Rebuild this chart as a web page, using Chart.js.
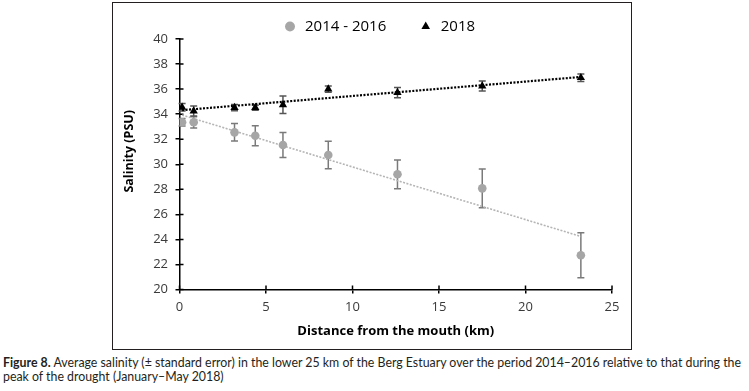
<!DOCTYPE html>
<html><head><meta charset="utf-8">
<script src="https://cdn.jsdelivr.net/npm/chart.js@4/dist/chart.umd.min.js"></script>
<style>
html,body{margin:0;padding:0;background:#fff;}
body{width:749px;height:391px;position:relative;overflow:hidden;}
#frame{position:absolute;left:112px;top:2px;width:518px;height:346px;border:1px solid #231f20;}
#c{position:absolute;left:0;top:0;}
.cap{position:absolute;left:3px;white-space:nowrap;font-family:Lato,'Liberation Sans',sans-serif;font-size:13.5px;line-height:13.4px;color:#231f20;transform-origin:0 0;}
</style></head><body>
<div id="frame"></div>
<canvas id="c" width="749" height="352"></canvas>
<div class="cap" id="cap1" style="top:356.4px"><b>Figure 8.</b> Average salinity (± standard error) in the lower 25 km of the Berg Estuary over the period 2014–2016 relative to that during the</div>
<div class="cap" id="cap2" style="top:369.8px">peak of the drought (January–May 2018)</div>
<script>
// ---- data ----
const seriesLabels = ['2014 - 2016', '2018'];
const distanceKm = [0.15, 0.82, 3.18, 4.38, 5.98, 8.6, 12.6, 17.5, 23.2];
const salinity2014 = [33.35, 33.35, 32.55, 32.28, 31.54, 30.74, 29.2, 28.08, 22.74];
const stderr2014 = [0.3, 0.45, 0.7, 0.8, 1.0, 1.1, 1.15, 1.55, 1.8];
const salinity2018 = [34.55, 34.25, 34.52, 34.52, 34.75, 36.0, 35.72, 36.25, 36.91];
const stderr2018 = [0.3, 0.4, 0.25, 0.2, 0.7, 0.25, 0.4, 0.4, 0.3];
const trendX = [0.15, 23.2];
const trend2014 = [33.93, 24.24];
const trend2018 = [34.32, 36.97];
const xTicks = [0, 5, 10, 15, 20, 25];
const yTicks = [20, 22, 24, 26, 28, 30, 32, 34, 36, 38, 40];

const toPts = (xs, ys) => xs.map((x, i) => ({x: x, y: ys[i]}));

Chart.defaults.font.family = "'Open Sans', sans-serif";

const errorBars = {
  id: 'errorBars',
  beforeDatasetsDraw(chart) {
    const {ctx, scales: {x, y}} = chart;
    chart.data.datasets.forEach(ds => {
      if (!ds.errors) return;
      ctx.save();
      ctx.strokeStyle = ds.errorColor;
      ctx.lineWidth = 1.5;
      ctx.beginPath();
      ds.data.forEach((p, j) => {
        const e = ds.errors[j];
        const px = x.getPixelForValue(p.x);
        const t = y.getPixelForValue(p.y + e), b = y.getPixelForValue(p.y - e);
        ctx.moveTo(px, t); ctx.lineTo(px, b);
        ctx.moveTo(px - 3.5, t); ctx.lineTo(px + 3.5, t);
        ctx.moveTo(px - 3.5, b); ctx.lineTo(px + 3.5, b);
      });
      ctx.stroke();
      ctx.restore();
    });
  }
};

const innerTicks = {
  id: 'innerTicks',
  beforeDatasetsDraw(chart) {
    const {ctx, chartArea: a, scales: {x, y}} = chart;
    ctx.save();
    ctx.strokeStyle = '#000';
    ctx.lineWidth = 1.5;
    ctx.beginPath();
    y.ticks.forEach(t => { const py = y.getPixelForValue(t.value); ctx.moveTo(a.left, py); ctx.lineTo(a.left + 4, py); });
    x.ticks.forEach(t => { const px = x.getPixelForValue(t.value); ctx.moveTo(px, a.bottom); ctx.lineTo(px, a.bottom - 4); });
    ctx.stroke();
    ctx.restore();
  }
};

const legendPlace = {
  id: 'legendPlace',
  afterLayout(chart) {
    const lg = chart.legend;
    if (!lg) return;
    const pad = lg.options.labels.padding;
    lg.left = 282.5 - pad;
    lg.right = 749;
    lg.top = 26.5 - 7.5 - pad;
    lg.bottom = 60;
  }
};

new Chart(document.getElementById('c'), {
  type: 'scatter',
  data: {
    datasets: [
      {label: seriesLabels[0], data: toPts(distanceKm, salinity2014), pointStyle: 'circle', pointRadius: 4.3,
       backgroundColor: '#a6a6a6', borderColor: '#a6a6a6', pointBorderWidth: 0,
       errors: stderr2014, errorColor: '#7a7a7a'},
      {label: seriesLabels[1], data: toPts(distanceKm, salinity2018), pointStyle: 'triangle', pointRadius: 4.8,
       backgroundColor: '#000', borderColor: '#000', pointBorderWidth: 0,
       errors: stderr2018, errorColor: '#555'},
      {label: 'trend 2014 - 2016', data: toPts(trendX, trend2014), showLine: true, pointRadius: 0,
       borderColor: '#b5b5b5', borderWidth: 1.6, borderDash: [2, 1.5], fill: false},
      {label: 'trend 2018', data: toPts(trendX, trend2018), showLine: true, pointRadius: 0,
       borderColor: '#000', borderWidth: 2.2, borderDash: [2, 1.5], fill: false}
    ]
  },
  options: {
    responsive: false,
    animation: false,
    events: [],
    layout: {padding: {left: 113, right: 137, top: 9, bottom: 0}},
    plugins: {
      legend: {
        position: 'top', align: 'start', maxHeight: 30,
        labels: {usePointStyle: true, boxWidth: 15, boxHeight: 7, padding: 32, color: '#000',
                 font: {size: 15}, filter: item => item.datasetIndex < 2}
      },
      tooltip: {enabled: false}
    },
    scales: {
      x: {
        type: 'linear', min: 0, max: 25,
        afterFit: s => { s.height = 62.4; },
        afterBuildTicks: s => { s.ticks = xTicks.map(v => ({value: v})); },
        ticks: {color: '#3a3a3a', font: {size: 13}, padding: 6, maxRotation: 0},
        grid: {drawOnChartArea: false, drawTicks: true, tickLength: 4, color: '#000', lineWidth: 1.5},
        border: {display: true, color: '#000', width: 1.5},
        title: {display: true, text: 'Distance from the mouth (km)', color: '#000',
                font: {size: 13, weight: 'bold'}, padding: {top: 0, bottom: 13.2}}
      },
      y: {
        type: 'linear', min: 20, max: 40,
        afterFit: s => { s.width = 66.5; },
        afterBuildTicks: s => { s.ticks = yTicks.map(v => ({value: v})); },
        ticks: {color: '#3a3a3a', font: {size: 13}, padding: 7.5},
        grid: {drawOnChartArea: false, drawTicks: true, tickLength: 4, color: '#000', lineWidth: 1.5},
        border: {display: true, color: '#000', width: 1.5},
        title: {display: true, text: '        Salinity (PSU)', color: '#000',
                font: {size: 12.5, weight: 'bold'}, padding: {top: 8.5, bottom: 0}}
      }
    }
  },
  plugins: [errorBars, innerTicks, legendPlace]
});

['cap1', 'cap2'].forEach(id => {
  const el = document.getElementById(id);
  el.dataset.w = el.getBoundingClientRect().width;
});
const s = 738 / parseFloat(document.getElementById('cap1').dataset.w);
['cap1', 'cap2'].forEach(id => { document.getElementById(id).style.transform = 'scaleX(' + s + ')'; });
</script>
</body></html>
